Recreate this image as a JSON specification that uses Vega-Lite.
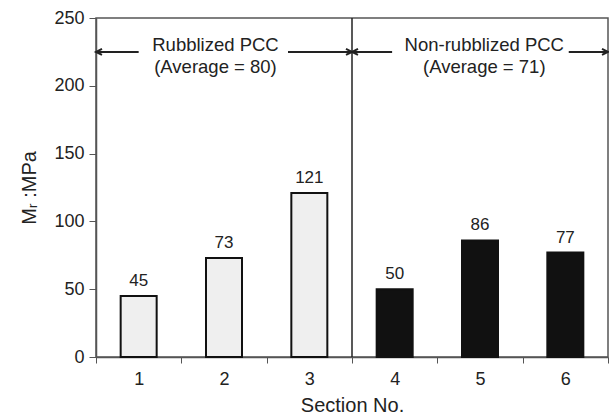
{
  "$schema": "https://vega.github.io/schema/vega-lite/v6.json",
  "autosize": "none",
  "width": 512,
  "height": 339,
  "padding": {"left": 96, "top": 18, "right": 1, "bottom": 60},
  "background": "white",
  "config": {
    "view": {"stroke": "#555555", "strokeWidth": 1.5},
    "font": "Liberation Sans",
    "axis": {"labelFont": "Liberation Sans", "titleFont": "Liberation Sans", "labelColor": "#222", "titleColor": "#222", "domainColor": "#555", "tickColor": "#555", "grid": false, "titleFontWeight": "normal"}
  },
  "layer": [
    {
      "data": {"values": [
        {"section": "1", "value": 45, "group": "Rubblized"},
        {"section": "2", "value": 73, "group": "Rubblized"},
        {"section": "3", "value": 121, "group": "Rubblized"},
        {"section": "4", "value": 50, "group": "Non-rubblized"},
        {"section": "5", "value": 86, "group": "Non-rubblized"},
        {"section": "6", "value": 77, "group": "Non-rubblized"}
      ]},
      "encoding": {
        "x": {"field": "section", "type": "ordinal", "sort": null,
          "scale": {"paddingInner": 0, "paddingOuter": 0},
          "axis": {"title": "Section No.", "labelAngle": 0, "tickBand": "extent", "tickSize": 6, "labelPadding": 7, "labelFontSize": 18, "titleFontSize": 20, "titlePadding": 7, "domainWidth": 1.5, "tickWidth": 1}},
        "y": {"field": "value", "type": "quantitative",
          "scale": {"domain": [0, 250], "nice": false},
          "axis": {"title": "Mᵣ :MPa", "values": [0, 50, 100, 150, 200, 250], "tickSize": 7, "labelPadding": 5, "labelFontSize": 18, "titleFontSize": 20, "titlePadding": 14, "domainWidth": 1.5}}
      },
      "layer": [
        {
          "mark": {"type": "bar", "size": 36, "stroke": "#111111", "strokeWidth": 2},
          "encoding": {
            "fill": {"field": "group", "type": "nominal", "scale": {"domain": ["Rubblized", "Non-rubblized"], "range": ["#efefef", "#111111"]}, "legend": null}
          }
        },
        {
          "mark": {"type": "text", "baseline": "bottom", "dy": -6, "fontSize": 17, "color": "#222"},
          "encoding": {"text": {"field": "value", "type": "quantitative"}}
        }
      ]
    },
    {
      "layer": [
        {
          "data": {"values": [
            {"xa": 0.5, "xb": 1.0, "value": 225},
            {"xa": 2.75, "xb": 3.5, "value": 225},
            {"xa": 3.5, "xb": 3.97, "value": 225},
            {"xa": 6.04, "xb": 6.5, "value": 225}
          ]},
          "mark": {"type": "rule", "stroke": "#222", "strokeWidth": 2},
          "encoding": {
            "x": {"field": "xa", "type": "quantitative", "scale": {"domain": [0.5, 6.5], "nice": false, "zero": false}, "axis": null},
            "x2": {"field": "xb"},
            "y": {"field": "value", "type": "quantitative"}
          }
        },
        {
          "data": {"values": [
            {"xa": 0.5, "value": 225, "dir": "left"},
            {"xa": 3.5, "value": 225, "dir": "right"},
            {"xa": 3.5, "value": 225, "dir": "left"},
            {"xa": 6.5, "value": 225, "dir": "right"}
          ]},
          "mark": {"type": "point", "filled": false, "stroke": "#222", "strokeWidth": 2, "size": 36, "opacity": 1},
          "encoding": {
            "x": {"field": "xa", "type": "quantitative", "axis": null},
            "y": {"field": "value", "type": "quantitative"},
            "shape": {"field": "dir", "type": "nominal", "scale": {"domain": ["left", "right"], "range": ["M2,-1L0,0L2,1", "M-2,-1L0,0L-2,1"]}, "legend": null}
          }
        },
        {
          "data": {"values": [
            {"xa": 3.5, "value": 0, "value2": 250}
          ]},
          "mark": {"type": "rule", "stroke": "#222", "strokeWidth": 1.5},
          "encoding": {
            "x": {"field": "xa", "type": "quantitative", "axis": null},
            "y": {"field": "value", "type": "quantitative"},
            "y2": {"field": "value2"}
          }
        },
        {
          "data": {"values": [
            {"xa": 1.9, "value": 230, "label": "Rubblized PCC"},
            {"xa": 1.9, "value": 213.5, "label": "(Average = 80)"},
            {"xa": 5.05, "value": 230, "label": "Non-rubblized PCC"},
            {"xa": 5.05, "value": 213.5, "label": "(Average = 71)"}
          ]},
          "mark": {"type": "text", "fontSize": 18.5, "color": "#222", "baseline": "middle"},
          "encoding": {
            "x": {"field": "xa", "type": "quantitative", "axis": null},
            "y": {"field": "value", "type": "quantitative"},
            "text": {"field": "label", "type": "nominal"}
          }
        }
      ]
    }
  ],
  "resolve": {"scale": {"x": "independent"}}
}
